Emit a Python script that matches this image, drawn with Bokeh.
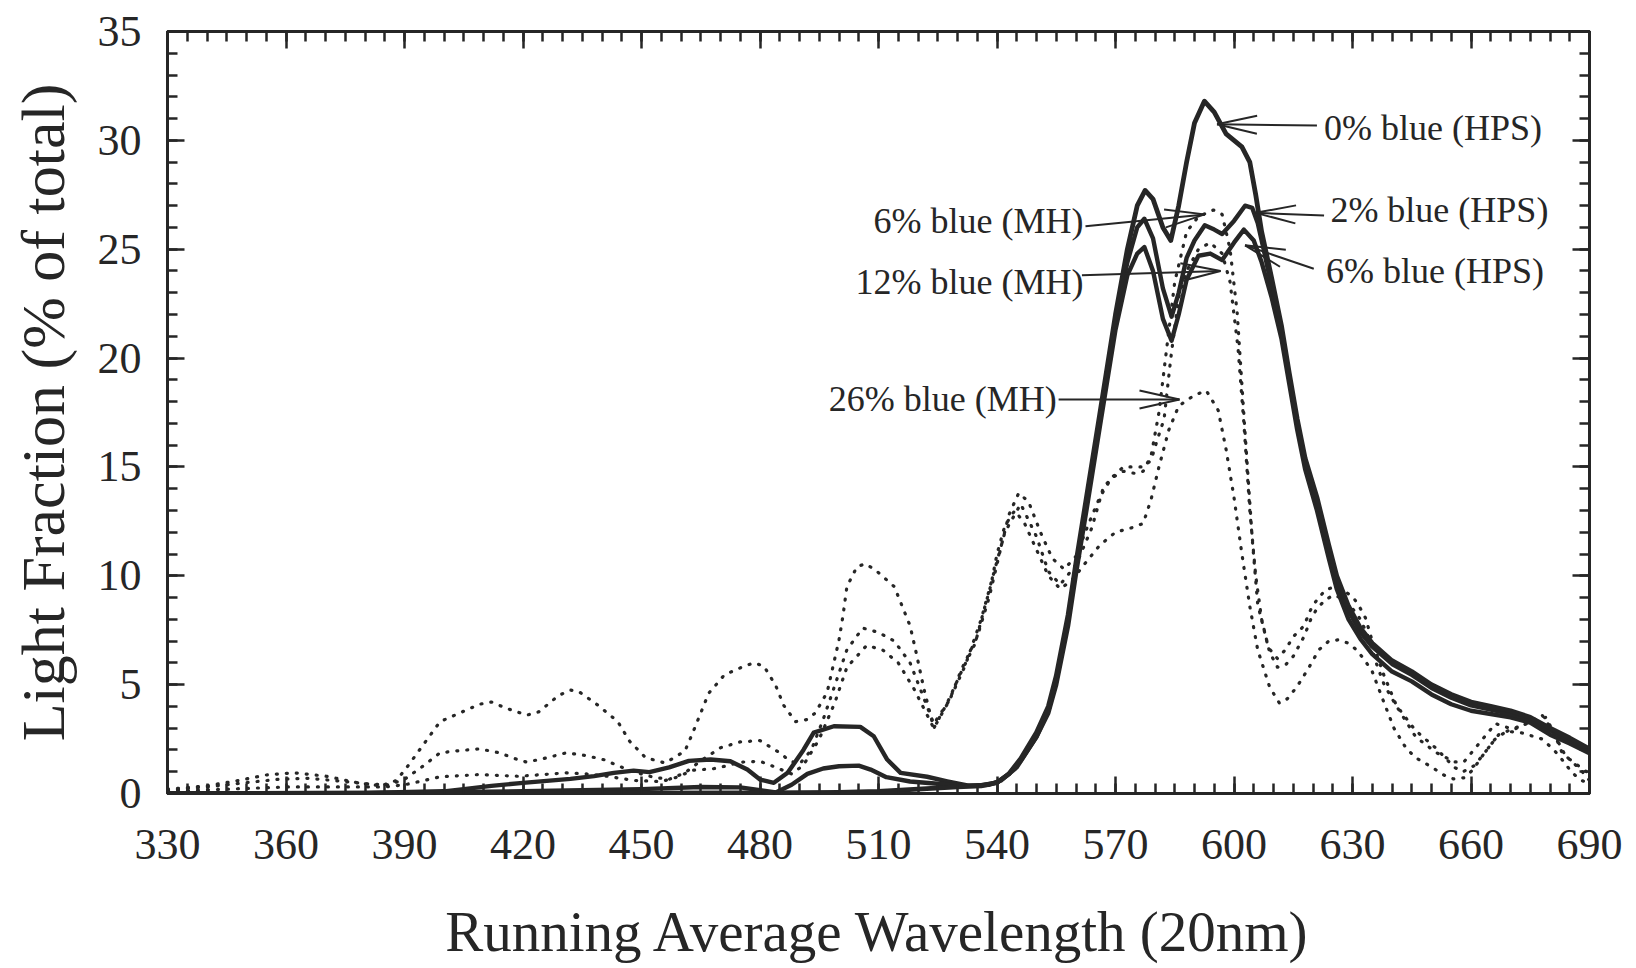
import math
from bokeh.plotting import figure
from bokeh.models import LinearAxis, SingleIntervalTicker, Label, Range1d, CustomLabelingPolicy
from bokeh.embed import file_html
from bokeh.resources import INLINE

# ---------------- data ----------------
hps0_wl = [330, 360, 400, 440, 480, 500, 510, 520, 530, 536, 540, 543, 546, 550, 553, 555, 558, 560, 563, 566,
           570, 573, 575.5, 577.5, 579.5, 582, 584, 586, 588, 590, 592.5, 595, 598, 602, 604, 605.5, 607, 609.5,
           612, 614, 616, 618, 621, 624, 626, 629, 632, 635, 640, 645, 650, 655, 660, 665, 670, 675, 680, 685, 690]
hps0_val = [0.0, 0.0, 0.0, 0.02, 0.03, 0.05, 0.1, 0.2, 0.3, 0.35, 0.5, 0.9, 1.6, 2.8, 4.0, 5.4, 8.2, 10.6, 14.0, 17.4,
            22.0, 25.0, 27.0, 27.7, 27.3, 26.0, 25.4, 27.0, 29.0, 30.8, 31.8, 31.3, 30.3, 29.7, 29.0, 27.5, 25.8, 23.7,
            21.5, 19.3, 17.2, 15.4, 13.6, 11.4, 10.0, 8.6, 7.6, 6.9, 6.1, 5.6, 5.0, 4.55, 4.2, 4.0, 3.8, 3.5, 3.0, 2.55, 2.05]

hps2_wl = [330, 380, 420, 450, 465, 475, 480, 484, 488, 492, 496, 500, 505, 508, 512, 518, 525, 533, 538, 541, 545,
           550, 553, 555, 558, 560, 563, 566, 570, 573, 575.5, 577.3, 579.5, 582, 584.2, 586, 588, 590, 592.6, 595,
           597, 600, 602.8, 604.6, 606, 607.5, 609.5, 612, 614, 616, 618, 621, 624, 626, 629, 632, 635, 640, 645,
           650, 655, 660, 665, 670, 675, 680, 685, 690]
hps2_val = [0.0, 0.02, 0.1, 0.2, 0.3, 0.28, 0.15, 0.05, 0.4, 0.9, 1.15, 1.25, 1.28, 1.1, 0.75, 0.55, 0.45, 0.35, 0.4,
            0.6, 1.2, 2.6, 3.8, 5.2, 8.0, 10.4, 13.8, 17.2, 21.8, 24.4, 26.0, 26.4, 25.5, 23.2, 21.9, 23.0, 24.6,
            25.4, 26.1, 25.9, 25.7, 26.3, 27.0, 26.9, 26.2, 25.0, 23.3, 21.3, 19.1, 17.0, 15.2, 13.4, 11.2, 9.8,
            8.4, 7.4, 6.75, 5.95, 5.45, 4.85, 4.4, 4.05, 3.85, 3.65, 3.4, 2.9, 2.45, 2.0]

hps6_wl = [330, 380, 400, 405, 412, 420, 426, 432, 438, 443, 448, 452, 457, 462, 467.5, 472.5, 476.8, 480, 483.5,
           487, 491, 493.6, 498.7, 505.4, 508.8, 512.2, 515.6, 522.3, 527.4, 532.5, 536, 540, 543, 546, 550, 553,
           555, 558, 560, 563, 566, 570, 573, 575.5, 577.3, 579.5, 582, 584.2, 586, 588, 591, 594, 597, 600, 602.5,
           605, 607, 609.5, 612, 614, 616, 618, 621, 624, 626, 629, 632, 635, 640, 645, 650, 655, 660, 665, 670,
           675, 680, 685, 690]
hps6_val = [0.0, 0.02, 0.1, 0.2, 0.35, 0.49, 0.58, 0.67, 0.8, 0.95, 1.05, 0.98, 1.2, 1.5, 1.56, 1.48, 1.1, 0.64,
            0.49, 0.95, 2.0, 2.8, 3.09, 3.06, 2.63, 1.56, 0.95, 0.77, 0.56, 0.37, 0.38, 0.5, 0.9, 1.5, 2.6, 3.7, 5.0,
            7.7, 10.1, 13.4, 16.8, 21.3, 23.8, 24.8, 25.1, 24.0, 21.8, 20.8, 22.0, 23.6, 24.7, 24.8, 24.5, 25.3,
            25.9, 25.4, 24.4, 22.8, 20.9, 18.8, 16.7, 14.9, 13.0, 10.8, 9.4, 8.0, 7.1, 6.4, 5.6, 5.15, 4.55, 4.1,
            3.8, 3.65, 3.5, 3.25, 2.7, 2.3, 1.85]

mh6_wl = [330, 345, 360, 375, 385, 390, 395, 399, 409, 419, 431, 436, 441, 448, 455, 459, 463, 468, 471, 475, 480,
          484, 488, 491, 495, 499, 502, 507, 511, 515, 519, 524, 528, 532, 536, 539, 542, 546, 550, 553, 556, 560,
          564, 567, 569.6, 572, 575, 577, 579, 581, 583, 585, 588, 591, 594.8, 597, 599, 600.8, 602.9, 604.7, 606,
          608.7, 611, 613, 615, 617.7, 619.4, 621, 623.2, 625.7, 628, 630.3, 632, 633.3, 635, 637.9, 641.1, 645.9,
          651, 655.8, 658, 661, 664, 667, 671, 675, 679, 682, 684, 687, 690]
mh6_val = [0.1, 0.2, 0.3, 0.3, 0.3, 0.4, 0.6, 0.77, 0.87, 0.79, 0.95, 0.9, 0.8, 0.6, 0.55, 0.75, 1.07, 1.13, 1.25,
           1.44, 1.48, 1.2, 0.9, 1.3, 2.5, 4.2, 5.8, 6.8, 6.6, 6.0, 4.8, 3.0, 4.3, 5.9, 8.0, 10.0, 12.0, 13.3, 11.8,
           10.2, 9.6, 10.5, 12.2, 14.1, 14.55, 14.8, 14.7, 14.8, 15.5, 17.5, 20.5, 23.5, 25.8, 26.5, 26.8, 26.6,
           25.0, 22.1, 16.3, 11.5, 8.7, 6.7, 6.2, 6.6, 7.2, 7.7, 8.44, 8.9, 9.36, 9.5, 9.3, 8.98, 8.5, 8.06, 7.0,
           5.46, 4.05, 2.9, 2.1, 1.2, 1.0, 1.3, 2.0, 2.7, 3.0, 3.3, 3.5, 2.4, 1.7, 1.3, 0.9]

mh12_wl = [330, 340, 350, 358, 365, 372, 380, 386, 390, 395, 399, 404, 409, 414, 419, 421, 426, 431, 436, 441,
           443.5, 448, 453, 457, 461, 465, 470, 475, 480, 485, 487.5, 490, 493, 496, 499, 502, 506, 510, 514, 518,
           521, 524, 528, 531, 535, 538, 541, 543, 545.5, 548, 551, 554, 557, 560, 563, 566, 569, 572, 575, 577,
           579, 580.5, 582.3, 584, 586, 588, 591, 594, 597, 599, 601, 602.5, 604, 605.5, 607, 609, 611, 613, 615,
           617.7, 619.4, 621, 623.2, 625, 627, 630, 632, 634, 636, 638, 641, 646, 651, 655.8, 658.2, 662.2, 666.2,
           670.8, 674, 678, 681, 683, 687.7, 690]
mh12_val = [0.15, 0.3, 0.5, 0.65, 0.7, 0.6, 0.45, 0.4, 0.65, 1.3, 1.87, 1.97, 2.05, 1.87, 1.53, 1.44, 1.64, 1.87,
            1.74, 1.53, 1.31, 1.0, 0.75, 0.65, 0.95, 1.5, 2.1, 2.37, 2.43, 1.87, 1.5, 1.35, 2.0, 3.4, 5.0, 6.6, 7.6,
            7.4, 7.0, 6.0, 4.6, 3.2, 4.3, 5.7, 7.2, 9.0, 11.3, 12.8, 13.8, 13.4, 12.0, 10.8, 10.3, 10.9, 12.3,
            13.6, 14.5, 15.0, 15.0, 15.0, 15.3, 16.2, 17.2, 20.0, 22.8, 24.0, 25.0, 25.3, 24.8, 23.5, 20.5, 17.0,
            13.0, 10.0, 8.0, 6.5, 5.8, 5.9, 6.3, 7.2, 7.98, 8.5, 8.9, 9.1, 9.0, 8.5, 8.0, 7.2, 6.0, 5.0, 4.05, 2.6,
            1.9, 1.45, 1.45, 2.33, 3.21, 2.94, 3.2, 3.6, 2.8, 1.9, 1.1, 0.6]

mh26_wl = [330, 340, 348, 355, 362, 370, 378, 384, 388, 391, 395, 399, 404, 409, 412, 416, 421, 424, 429, 432, 434,
           439, 444, 447, 451, 456, 461, 463, 465, 467, 471, 476, 478.5, 481, 484, 486, 489, 492, 494, 497, 498.5,
           500, 501, 502, 504.5, 506.5, 509, 514, 516, 518, 519.5, 521.5, 524, 527.5, 531, 534.5, 536.5, 538.5,
           540, 542, 544.5, 547, 550, 553, 556, 559, 562, 566, 570, 574, 577, 579, 581, 583.5, 586, 590, 593, 596,
           598, 600, 602, 604, 606, 609, 611.5, 613.5, 615.5, 617, 619, 621.5, 624, 626.5, 629, 631, 633, 635,
           637.5, 640.5, 643.5, 646, 648.5, 651, 653.3, 655.6, 658.2, 660.6, 662.2, 664, 666, 669, 673, 678, 681,
           683.4, 685.6, 688, 690]
mh26_val = [0.2, 0.35, 0.6, 0.85, 0.95, 0.8, 0.5, 0.35, 0.6, 1.3, 2.3, 3.3, 3.7, 4.1, 4.2, 3.9, 3.6, 3.75, 4.5,
            4.75, 4.7, 4.05, 3.3, 2.4, 1.65, 1.4, 1.95, 2.8, 3.7, 4.6, 5.45, 5.85, 6.0, 5.85, 4.95, 4.05, 3.3, 3.4,
            3.7, 4.65, 5.85, 7.05, 8.15, 9.5, 10.4, 10.55, 10.3, 9.5, 8.6, 7.7, 6.5, 4.8, 3.0, 4.2, 5.6, 6.9, 8.3,
            9.6, 11.0, 12.3, 13.0, 12.4, 11.2, 10.0, 9.4, 9.8, 10.5, 11.4, 12.0, 12.2, 12.4, 13.5, 15.0, 16.7,
            17.8, 18.3, 18.5, 17.6, 15.8, 13.6, 11.0, 8.6, 6.6, 4.9, 4.15, 4.35, 4.8, 5.2, 5.8, 6.6, 7.0, 7.06,
            6.9, 6.6, 6.15, 5.6, 4.4, 3.0, 2.1, 1.64, 1.38, 1.1, 0.83, 0.67, 0.72, 1.1, 1.56, 2.0, 2.48, 2.86,
            2.78, 2.5, 2.0, 1.48, 0.95, 0.6, 0.45]

series_names = ["0% blue (HPS)", "2% blue (HPS)", "6% blue (HPS)",
                "6% blue (MH)", "12% blue (MH)", "26% blue (MH)"]

x_label = "Running Average Wavelength (20nm)"
y_label = "Light Fraction (% of total)"

# annotation placement: (text anchor x, y, align, arrow tail x, y, arrow tip x, y)
annotations = [
    (series_names[0], 622.8, 30.55, "left", 621.0, 30.68, 595.7, 30.74),
    (series_names[1], 624.4, 26.8, "left", 622.8, 26.55, 605.5, 26.67),
    (series_names[2], 623.3, 24.0, "left", 620.2, 24.1, 602.8, 25.18),
    (series_names[3], 561.9, 26.3, "right", 562.4, 26.05, 592.6, 26.6),
    (series_names[4], 561.9, 23.5, "right", 561.5, 23.8, 596.6, 24.0),
    (series_names[5], 555.1, 18.1, "right", 555.6, 18.1, 586.2, 18.1),
]

# ---------------- layout ----------------
W, H = 1636, 968
ML, MR, MT, MB = 167, 47, 31, 175
FW, FH = W - ML - MR, H - MT - MB
X0, X1, Y0, Y1 = 330, 690, 0, 35
INK = "#262626"
SERIF = "Liberation Serif"
SX = FW / (X1 - X0)
SY = FH / (Y1 - Y0)

p = figure(width=W, height=H, x_range=Range1d(X0, X1), y_range=Range1d(Y0, Y1),
           output_backend="svg", toolbar_location=None,
           min_border_left=ML, min_border_right=MR, min_border_top=MT, min_border_bottom=MB,
           x_axis_location=None, y_axis_location=None)
p.grid.visible = False
p.background_fill_color = "white"
p.border_fill_color = "white"
p.outline_line_color = INK
p.outline_line_width = 3


def style_axis(ax, show_labels):
    ax.axis_line_width = 3
    ax.axis_line_color = INK
    ax.major_tick_in = 17
    ax.major_tick_out = 0
    ax.minor_tick_in = 10
    ax.minor_tick_out = 0
    ax.major_tick_line_width = 2.5
    ax.minor_tick_line_width = 2.5
    ax.major_tick_line_color = INK
    ax.minor_tick_line_color = INK
    ax.major_label_text_font = SERIF
    ax.major_label_text_color = INK
    ax.axis_label_text_font = SERIF
    ax.axis_label_text_font_style = "normal"
    ax.axis_label_text_color = INK
    if show_labels:
        ax.major_label_text_font_size = "44px"
    else:
        ax.major_label_text_font_size = "0px"
        ax.major_label_standoff = 0
        ax.major_label_policy = CustomLabelingPolicy(code="for (const i of indices) indices.unset(i)")


xt = SingleIntervalTicker(interval=30, num_minor_ticks=6)
yt = SingleIntervalTicker(interval=5, num_minor_ticks=5)

bx = LinearAxis(ticker=xt, axis_label=x_label)
style_axis(bx, True)
bx.major_label_standoff = 36
bx.axis_label_standoff = 38
bx.axis_label_text_font_size = "57px"
p.add_layout(bx, "below")

tx = LinearAxis(ticker=xt)
style_axis(tx, False)
p.add_layout(tx, "above")

ly = LinearAxis(ticker=yt, axis_label=y_label)
style_axis(ly, True)
ly.major_label_standoff = 26
ly.axis_label_standoff = 18
ly.axis_label_text_font_size = "62px"
p.add_layout(ly, "left")

ry = LinearAxis(ticker=yt)
style_axis(ry, False)
p.add_layout(ry, "right")

# ---------------- curves ----------------
dotted = [(mh6_wl, mh6_val), (mh12_wl, mh12_val), (mh26_wl, mh26_val)]
for xs, ys in dotted:
    p.line(xs, ys, line_color=INK, line_width=3.2, line_dash="1 9", line_cap="round", line_join="round")

solid = [(hps6_wl, hps6_val, 4.4), (hps2_wl, hps2_val, 4.4), (hps0_wl, hps0_val, 4.8)]
for xs, ys, lw in solid:
    p.line(xs, ys, line_color=INK, line_width=lw, line_join="round", line_cap="round")

# ---------------- annotations ----------------
HEAD_L, HEAD_W = 40.0, 9.0

seg_x0, seg_y0, seg_x1, seg_y1 = [], [], [], []
for text, tx_, ty_, align, ax0, ay0, ax1, ay1 in annotations:
    p.add_layout(Label(x=tx_, y=ty_, text=text, text_align=align, text_baseline="middle",
                       text_font=SERIF, text_font_size="36px", text_color=INK))
    seg_x0.append(ax0); seg_y0.append(ay0); seg_x1.append(ax1); seg_y1.append(ay1)
    dx = (ax1 - ax0) * SX
    dy = (ay1 - ay0) * SY
    n = math.hypot(dx, dy)
    ux, uy = dx / n, dy / n
    for sgn in (1, -1):
        hx = -ux * HEAD_L + sgn * (-uy) * HEAD_W
        hy = -uy * HEAD_L + sgn * ux * HEAD_W
        seg_x0.append(ax1); seg_y0.append(ay1)
        seg_x1.append(ax1 + hx / SX); seg_y1.append(ay1 + hy / SY)

p.segment(seg_x0, seg_y0, seg_x1, seg_y1, line_color=INK, line_width=2)

open("out.html", "w").write(file_html(p, INLINE))
